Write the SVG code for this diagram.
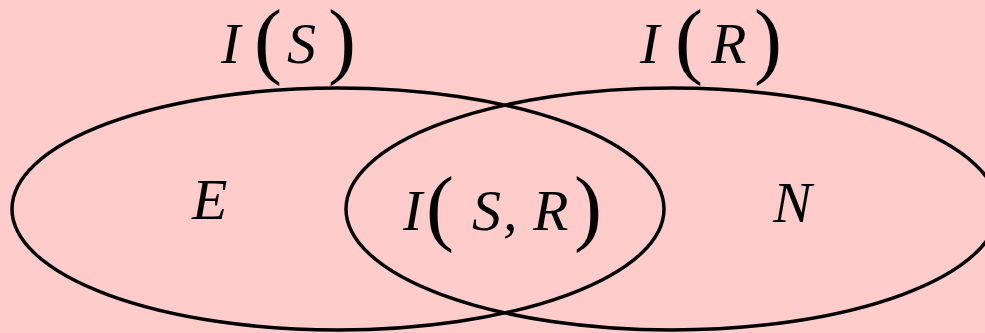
<svg xmlns="http://www.w3.org/2000/svg" width="985" height="333" viewBox="0 0 985 333">
<rect width="985" height="333" fill="#FFCCCC"/>
<g id="setS">
<ellipse cx="338" cy="209" rx="326" ry="121" fill="none" stroke="#000" stroke-width="3.5"/>
<text style="font-family:'Liberation Serif',serif;font-style:italic;font-size:58px"><tspan x="221" y="63">I</tspan><tspan x="254" y="68" style="font-size:84px;font-style:normal">(</tspan><tspan x="287" y="63">S</tspan><tspan x="328" y="68" style="font-size:84px;font-style:normal">)</tspan></text>
</g>
<g id="setR">
<ellipse cx="672" cy="209" rx="326" ry="121" fill="none" stroke="#000" stroke-width="3.5"/>
<text style="font-family:'Liberation Serif',serif;font-style:italic;font-size:58px"><tspan x="640" y="63">I</tspan><tspan x="675" y="68" style="font-size:84px;font-style:normal">(</tspan><tspan x="711" y="63">R</tspan><tspan x="754" y="68" style="font-size:84px;font-style:normal">)</tspan></text>
</g>
<g id="regionE">
<text style="font-family:'Liberation Serif',serif;font-style:italic;font-size:58px"><tspan x="192" y="219">E</tspan></text>
</g>
<g id="regionN">
<text style="font-family:'Liberation Serif',serif;font-style:italic;font-size:58px"><tspan x="773" y="222">N</tspan></text>
</g>
<g id="regionSR">
<text style="font-family:'Liberation Serif',serif;font-style:italic;font-size:58px"><tspan x="403" y="230">I</tspan><tspan x="426" y="235" style="font-size:84px;font-style:normal">(</tspan><tspan x="472" y="230">S</tspan><tspan x="503" y="230">,</tspan><tspan x="533" y="230">R</tspan><tspan x="574" y="235" style="font-size:84px;font-style:normal">)</tspan></text>
</g>
</svg>
